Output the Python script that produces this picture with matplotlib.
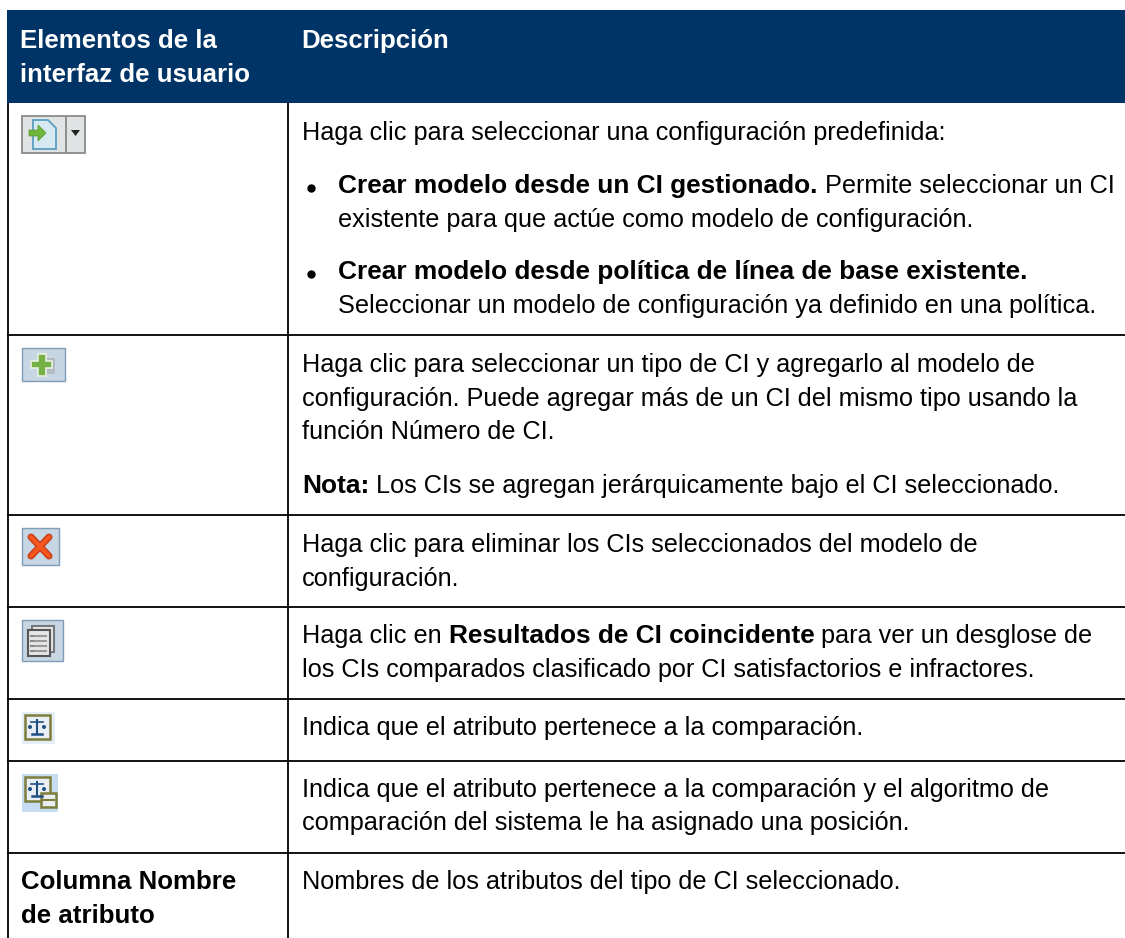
import matplotlib
matplotlib.use("Agg")
import matplotlib.pyplot as plt
from matplotlib.patches import Rectangle, Polygon, Circle

plt.rcParams['font.family'] = ['Liberation Sans', 'DejaVu Sans']

NAVY = '#003366'
FS = 18.2
FS_BOLD = 18.9
FS_HEAD = 18.6

header_left = ["Elementos de la", "interfaz de usuario"]
header_right = "Descripción"

# (baseline, x, [(text, bold), ...])
body_lines = [
    (140, 302, [("Haga clic para seleccionar una configuración predefinida:", False)]),
    (193, 338, [("Crear modelo desde un CI gestionado.", True), (" Permite seleccionar un CI", False)]),
    (227, 338, [("existente para que actúe como modelo de configuración.", False)]),
    (279, 338, [("Crear modelo desde política de línea de base existente.", True)]),
    (313, 338, [("Seleccionar un modelo de configuración ya definido en una política.", False)]),
    (372, 302, [("Haga clic para seleccionar un tipo de CI y agregarlo al modelo de", False)]),
    (406, 302, [("configuración. Puede agregar más de un CI del mismo tipo usando la", False)]),
    (439, 302, [("función Número de CI.", False)]),
    (493, 302, [("Nota:", True), (" Los CIs se agregan jerárquicamente bajo el CI seleccionado.", False)]),
    (552, 302, [("Haga clic para eliminar los CIs seleccionados del modelo de", False)]),
    (586, 302, [("configuración.", False)]),
    (643, 302, [("Haga clic en ", False), ("Resultados de CI coincidente", True), (" para ver un desglose de", False)]),
    (677, 302, [("los CIs comparados clasificado por CI satisfactorios e infractores.", False)]),
    (735, 302, [("Indica que el atributo pertenece a la comparación.", False)]),
    (797, 302, [("Indica que el atributo pertenece a la comparación y el algoritmo de", False)]),
    (830, 302, [("comparación del sistema le ha asignado una posición.", False)]),
    (889, 302, [("Nombres de los atributos del tipo de CI seleccionado.", False)]),
]
left_lines = [(889, "Columna Nombre"), (923, "de atributo")]
bullet_rows = [188, 274]
row_lines = [335, 515, 607, 699, 761, 853]

fig = plt.figure(figsize=(11.25, 9.38), dpi=100)
ax = fig.add_axes([0, 0, 1, 1])
ax.set_xlim(0, 1125)
ax.set_ylim(938, 0)
ax.axis('off')

# header band and grid
ax.add_patch(Rectangle((7, 10), 1118, 93.5, fc=NAVY, ec='none'))
ax.plot([8, 8], [103, 938], color='black', lw=1.3, solid_capstyle='butt')
ax.plot([288, 288], [103, 938], color='black', lw=1.3, solid_capstyle='butt')
for y in row_lines:
    ax.plot([7, 1125], [y, y], color='black', lw=1.3, solid_capstyle='butt')

ax.text(20, 48, header_left[0], color='white', fontsize=FS_HEAD, fontweight='bold', va='baseline')
ax.text(20, 82, header_left[1], color='white', fontsize=FS_HEAD, fontweight='bold', va='baseline')
ax.text(301, 48, header_right, color='white', fontsize=FS_HEAD, fontweight='bold', va='baseline')

# text runs, bold and regular placed one after the other
renderer = fig.canvas.get_renderer()
for base, x0, runs in body_lines:
    x = x0
    for s, bold in runs:
        t = ax.text(x, base, s, color='black', fontsize=FS_BOLD if bold else FS, va='baseline',
                    fontweight='bold' if bold else 'normal')
        x = x + t.get_window_extent(renderer).width
for y in bullet_rows:
    ax.plot([311], [y], 'o', color='black', ms=5)
for base, s in left_lines:
    ax.text(21, base, s, color='black', fontsize=FS_HEAD, fontweight='bold', va='baseline')


def button(x, y, w, h, fc='#c6d6e3', ec='#7f9db9'):
    ax.add_patch(Rectangle((x, y), w, h, fc=fc, ec=ec, lw=1))


# import icon with dropdown
ax.add_patch(Rectangle((21.5, 116.5), 63, 37, fc='#dfe3e3', ec='#8a8a8a', lw=1.3))
ax.plot([66, 66], [117, 153], color='#8a8a8a', lw=1.3)
ax.add_patch(Polygon([(33, 120), (48, 120), (56, 128), (56, 149), (33, 149)],
                     fc='#d6e8f2', ec='#5a9fc0', lw=1.3))
ax.add_patch(Polygon([(29, 130), (38, 130), (38, 125), (46, 133), (38, 141), (38, 136), (29, 136)],
                     fc='#6fb53a', ec='#4f9a28', lw=0.5))
ax.add_patch(Polygon([(71, 130), (80, 130), (75.5, 136)], fc='#222222', ec='none'))

# add icon
button(21.5, 348.5, 43, 33)
ax.add_patch(Rectangle((41, 358), 14, 16, fc='#a9a9a9', ec='none', alpha=0.6))
ax.add_patch(Polygon([(38, 354), (46, 354), (46, 361), (52, 361), (52, 368), (46, 368), (46, 376),
                      (38, 376), (38, 368), (31, 368), (31, 361), (38, 361)],
                     fc='#74b043', ec='#e8f0e0', lw=1.2))

# delete icon
button(21.5, 528.5, 37, 37)
ax.plot([31, 49], [537, 556], color='#c83a14', lw=5, solid_capstyle='round')
ax.plot([49, 31], [537, 556], color='#c83a14', lw=5, solid_capstyle='round')
ax.plot([31, 49], [537, 556], color='#f5551f', lw=3, solid_capstyle='round')
ax.plot([49, 31], [537, 556], color='#f5551f', lw=3, solid_capstyle='round')

# results icon
button(21.5, 620.5, 41, 41)
ax.add_patch(Rectangle((32, 626), 22, 26, fc='#e6e6e6', ec='#777777', lw=1.5))
ax.add_patch(Rectangle((28, 630), 22, 26, fc='#e6e6e6', ec='#555555', lw=1.5))
for yy in [636, 641, 646, 651]:
    ax.plot([35, 46], [yy, yy], color='#999999', lw=1.5)
    ax.plot([31, 33], [yy, yy], color='#888888', lw=1.5)


def scales(x, y, w, h, bg):
    ax.add_patch(Rectangle((x, y), w, h, fc=bg, ec='none'))
    ax.add_patch(Rectangle((x + 3, y + 3), 25, 24, fc='#e8eef4', ec='#7d7d3c', lw=1.8))
    cx = x + 15.5
    ax.plot([cx, cx], [y + 8, y + 21], color='#1f4f80', lw=1.5)
    ax.plot([cx - 6, cx + 6], [y + 10, y + 10], color='#1f4f80', lw=1.2)
    ax.plot([cx - 5, cx + 5], [y + 22, y + 22], color='#1f4f80', lw=1.8)
    ax.add_patch(Circle((cx - 7, y + 15), 2, fc='#1f4f80', ec='none'))
    ax.add_patch(Circle((cx + 7, y + 15), 2, fc='#1f4f80', ec='none'))


scales(21.5, 712, 33, 32, '#e6eef5')
scales(21.5, 774, 36, 38, '#c5dcf2')
ax.add_patch(Rectangle((41, 793), 15, 14, fc='#e8eef4', ec='#7d7d3c', lw=1.8))
ax.plot([43, 54], [800, 800], color='#7d7d3c', lw=1.5)

fig.savefig('out.png', dpi=100, facecolor='white')
